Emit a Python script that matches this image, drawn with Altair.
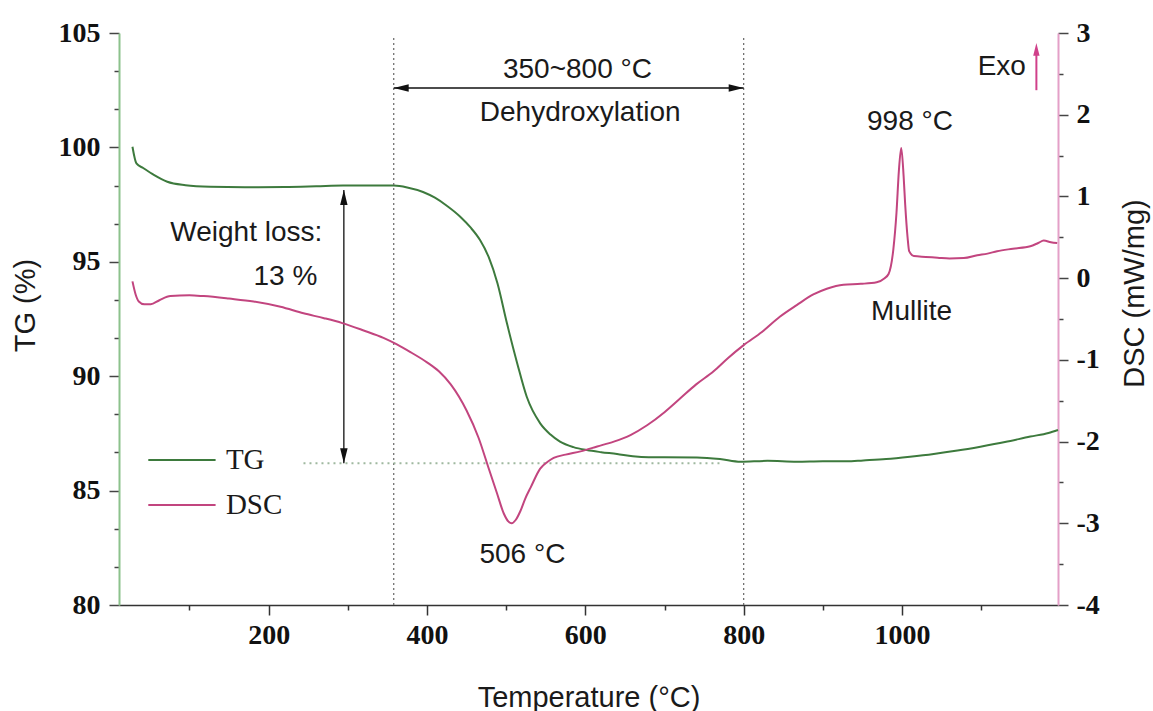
import altair as alt
import pandas as pd

# ---------------- data ----------------
temp_tg = [28, 33, 42, 55, 72, 95, 126, 170, 220, 260, 294, 330, 358, 375, 395, 410,
           425, 442, 455, 467, 478, 489, 501, 514, 526, 543, 556, 568, 585, 602, 620,
           640, 660, 680, 700, 741, 770, 796, 830, 867, 900, 930, 951, 980, 1010, 1040,
           1070, 1099, 1130, 1162, 1185, 1197]
tg = [100.03, 99.3, 99.09, 98.8, 98.5, 98.35, 98.28, 98.26, 98.27, 98.3, 98.33, 98.33,
      98.33, 98.25, 98.05, 97.8, 97.45, 96.97, 96.5, 95.95, 95.2, 94.06, 92.31, 90.56,
      89.1, 87.94, 87.45, 87.14, 86.9, 86.77, 86.68, 86.6, 86.5, 86.46, 86.46, 86.45,
      86.38, 86.26, 86.3, 86.26, 86.28, 86.28, 86.32, 86.38, 86.48, 86.6, 86.75, 86.92,
      87.12, 87.36, 87.52, 87.65]

temp_dsc = [28, 32, 36, 43, 51, 62, 76, 100, 118, 150, 181, 215, 244, 270, 293, 320,
            345, 362, 380, 400, 415, 430, 450, 465, 478, 488, 497, 503, 507, 512, 518,
            524, 531, 543, 552, 560, 575, 594, 615, 636, 657, 678, 700, 720, 740, 762,
            780, 800, 823, 846, 867, 888, 905, 926, 948, 968, 978, 983, 989, 993, 996,
            999, 1002, 1004, 1007, 1009, 1015, 1030, 1045, 1060, 1078, 1095, 1108, 1120,
            1140, 1162, 1172, 1179, 1188, 1196]
dsc = [-0.04, -0.2, -0.285, -0.32, -0.32, -0.27, -0.22, -0.21, -0.22, -0.25, -0.285,
       -0.35, -0.43, -0.49, -0.55, -0.64, -0.73, -0.81, -0.91, -1.03, -1.14, -1.30,
       -1.62, -1.95, -2.33, -2.62, -2.88, -2.98, -3.0, -2.96, -2.85, -2.7, -2.56, -2.33,
       -2.25, -2.2, -2.16, -2.12, -2.06, -2.0, -1.92, -1.8, -1.64, -1.47, -1.3, -1.14,
       -0.98, -0.82, -0.66, -0.47, -0.33, -0.2, -0.13, -0.08, -0.07, -0.05, 0.0, 0.05,
       0.35, 0.8, 1.31, 1.594, 1.25, 0.9, 0.5, 0.33, 0.27, 0.26, 0.25, 0.24, 0.245, 0.28,
       0.3, 0.33, 0.36, 0.39, 0.43, 0.46, 0.44, 0.43]

x_domain = [11, 1197]
tg_domain = [80, 105]
dsc_domain = [-4, 3]
x_ticks = list(range(100, 1200, 100))
tg_ticks = [80 + (i * 5) / 3 for i in range(16)]
dsc_ticks = [-4 + i * 0.5 for i in range(15)]

# annotation anchors (data units: temperature, TG %)
vline_temps = [358, 800]
span_arrow = [358, 800, 102.6]
loss_arrow = [295, 98.14, 86.2]
loss_ref_line = [244, 771, 86.2]
exo_arrow = [1169.7, 102.5, 104.56]
center_texts = ["350~800 °C", "Dehydroxylation", "506 °C", "998 °C", "Mullite", "Exo"]
center_text_x = [590, 593.5, 520.5, 1010, 1012, 1126]
center_text_y = [103.38, 101.5, 82.2, 101.1, 92.8, 103.5]
right_texts = ["Weight loss:", "13 %"]
right_text_x = [267.8, 261.5]
right_text_y = [96.26, 94.34]
legend_names = ["TG", "DSC"]
legend_colors = ["#3d7a3d", "#c2457f"]
legend_x = [48, 133, 146]
legend_y = [86.34, 84.37]

GREEN = "#3d7a3d"
PINK = "#c2457f"
SANS = "Liberation Sans"
SERIF = "Liberation Serif"

ARROW_R = "M0,0L-4,-1L-4,1Z"
ARROW_L = "M0,0L4,-1L4,1Z"
ARROW_U = "M0,0L-1,4L1,4Z"
ARROW_D = "M0,0L-1,-4L1,-4Z"

xs = alt.Scale(domain=x_domain, nice=False, zero=False)
ys_tg = alt.Scale(domain=tg_domain, nice=False, zero=False)
ys_dsc = alt.Scale(domain=dsc_domain, nice=False, zero=False)

x_axis = alt.Axis(
    title="Temperature (°C)", values=x_ticks,
    labelExpr="datum.value % 200 == 0 ? format(datum.value, 'd') : ''",
    tickSize={"condition": {"test": "datum.value % 200 == 0", "value": 10}, "value": 5},
    labelFont=SERIF, labelFontWeight="bold", labelFontSize=28, labelColor="#111",
    labelPadding=6, labelOverlap=False, labelFlush=False,
    domainColor="#333", domainWidth=1.5, tickColor="#333", tickWidth=1.5,
    titleFont=SANS, titleFontSize=29, titleFontWeight="normal", titleColor="#1a1a1a",
    titleY=101, titleBaseline="alphabetic", grid=False,
)
tg_axis = alt.Axis(
    title="TG (%)", values=tg_ticks, orient="left",
    labelExpr="datum.value % 5 == 0 ? format(datum.value, 'd') : ''",
    tickSize={"condition": {"test": "datum.value % 5 == 0", "value": 10}, "value": 5},
    labelFont=SERIF, labelFontWeight="bold", labelFontSize=28, labelColor="#111",
    labelPadding=9, labelOverlap=False, labelFlush=False,
    domainColor="#8cc28c", domainWidth=2, tickColor="#444", tickWidth=1.5,
    titleFont=SANS, titleFontSize=29, titleFontWeight="normal", titleColor="#1a1a1a",
    titleAngle=270, titleX=-94, titleY=272, titleAlign="center", titleBaseline="middle",
    grid=False,
)
dsc_axis = alt.Axis(
    title="DSC (mW/mg)", values=dsc_ticks, orient="right",
    labelExpr="datum.value % 1 == 0 ? (datum.value < 0 ? '-' + abs(datum.value) : '' + datum.value) : ''",
    tickSize={"condition": {"test": "datum.value % 1 == 0", "value": 10}, "value": 5},
    labelFont=SERIF, labelFontWeight="bold", labelFontSize=28, labelColor="#111",
    labelPadding=8, labelOverlap=False, labelFlush=False,
    domainColor="#e4a0c8", domainWidth=2, tickColor="#444", tickWidth=1.5,
    titleFont=SANS, titleFontSize=29, titleFontWeight="normal", titleColor="#1a1a1a",
    titleAngle=270, titleX=76, titleY=260, titleAlign="center", titleBaseline="middle",
    grid=False,
)

tg_df = pd.DataFrame({"t": temp_tg, "v": tg})
dsc_df = pd.DataFrame({"t": temp_dsc, "v": dsc})


def X(f):
    return alt.X(f, type="quantitative", scale=xs, axis=x_axis)


def YT(f):
    return alt.Y(f, type="quantitative", scale=ys_tg, axis=tg_axis)


def YD(f):
    return alt.Y(f, type="quantitative", scale=ys_dsc, axis=dsc_axis)


tg_line = alt.Chart(tg_df).mark_line(color=GREEN, strokeWidth=2, interpolate="monotone").encode(
    x=X("t"), y=YT("v"))

vlines = alt.Chart(pd.DataFrame({"t": vline_temps, "y1": [80] * 2, "y2": [104.8] * 2})).mark_rule(
    color="#666", strokeDash=[2, 3], strokeWidth=1.2).encode(
    x=X("t"), y=YT("y1"), y2=alt.Y2("y2"))

span_rule = alt.Chart(pd.DataFrame({"a": [span_arrow[0]], "b": [span_arrow[1]], "y": [span_arrow[2]]})).mark_rule(
    color="#111", strokeWidth=1.5).encode(x=X("a"), x2=alt.X2("b"), y=YT("y"))

loss_rule = alt.Chart(pd.DataFrame({"x": [loss_arrow[0]], "a": [loss_arrow[1]], "b": [loss_arrow[2]]})).mark_rule(
    color="#111", strokeWidth=1.3).encode(x=X("x"), y=YT("a"), y2=alt.Y2("b"))

ref_line = alt.Chart(pd.DataFrame({"a": [loss_ref_line[0]], "b": [loss_ref_line[1]], "y": [loss_ref_line[2]]})).mark_rule(
    color="#9fb89f", strokeDash=[2, 4], strokeWidth=2).encode(x=X("a"), x2=alt.X2("b"), y=YT("y"))

heads_df = pd.DataFrame({
    "x": [span_arrow[0], span_arrow[1], loss_arrow[0], loss_arrow[0]],
    "y": [span_arrow[2], span_arrow[2], loss_arrow[1], loss_arrow[2]],
    "shape": [ARROW_L, ARROW_R, ARROW_U, ARROW_D],
})
heads = alt.Chart(heads_df).mark_point(filled=True, color="#111", opacity=1, size=56).encode(
    x=X("x"), y=YT("y"), shape=alt.Shape("shape:N", scale=None))

exo_rule = alt.Chart(pd.DataFrame({"x": [exo_arrow[0]], "a": [exo_arrow[1]], "b": [exo_arrow[2] - 0.3]})).mark_rule(
    color="#d0408a", strokeWidth=2).encode(x=X("x"), y=YT("a"), y2=alt.Y2("b"))
exo_head = alt.Chart(pd.DataFrame({"x": [exo_arrow[0]], "y": [exo_arrow[2]], "shape": [ARROW_U]})).mark_point(
    filled=True, color="#d0408a", opacity=1, size=40).encode(
    x=X("x"), y=YT("y"), shape=alt.Shape("shape:N", scale=None))

ctext = alt.Chart(pd.DataFrame({"x": center_text_x, "y": center_text_y, "s": center_texts})).mark_text(
    font=SANS, fontSize=28, color="#1a1a1a", align="center", baseline="middle").encode(
    x=X("x"), y=YT("y"), text="s:N")
rtext = alt.Chart(pd.DataFrame({"x": right_text_x, "y": right_text_y, "s": right_texts})).mark_text(
    font=SANS, fontSize=28, color="#1a1a1a", align="right", baseline="middle").encode(
    x=X("x"), y=YT("y"), text="s:N")

leg_df = pd.DataFrame({"a": [legend_x[0]] * 2, "b": [legend_x[1]] * 2, "tx": [legend_x[2]] * 2,
                       "y": legend_y, "name": legend_names, "col": legend_colors})
leg_lines = alt.Chart(leg_df).mark_rule(strokeWidth=2).encode(
    x=X("a"), x2=alt.X2("b"), y=YT("y"), color=alt.Color("col:N", scale=None))
leg_text = alt.Chart(leg_df).mark_text(font=SERIF, fontSize=29, color="#1a1a1a", align="left",
                                       baseline="middle").encode(x=X("tx"), y=YT("y"), text="name:N")

left = alt.layer(tg_line, vlines, ref_line, span_rule, loss_rule, heads, exo_rule, exo_head,
                 ctext, rtext, leg_lines, leg_text)

dsc_line = alt.Chart(dsc_df).mark_line(color=PINK, strokeWidth=2, interpolate="monotone").encode(
    x=X("t"), y=YD("v"))

chart = alt.layer(left, dsc_line).resolve_scale(y="independent").properties(
    width=939, height=572,
    background="white",
    autosize=alt.AutoSizeParams(type="none"),
    padding={"left": 119, "top": 33, "right": 95, "bottom": 106},
).configure_view(stroke=None)

chart.save("out.html", embed_options={"renderer": "svg", "actions": False})
